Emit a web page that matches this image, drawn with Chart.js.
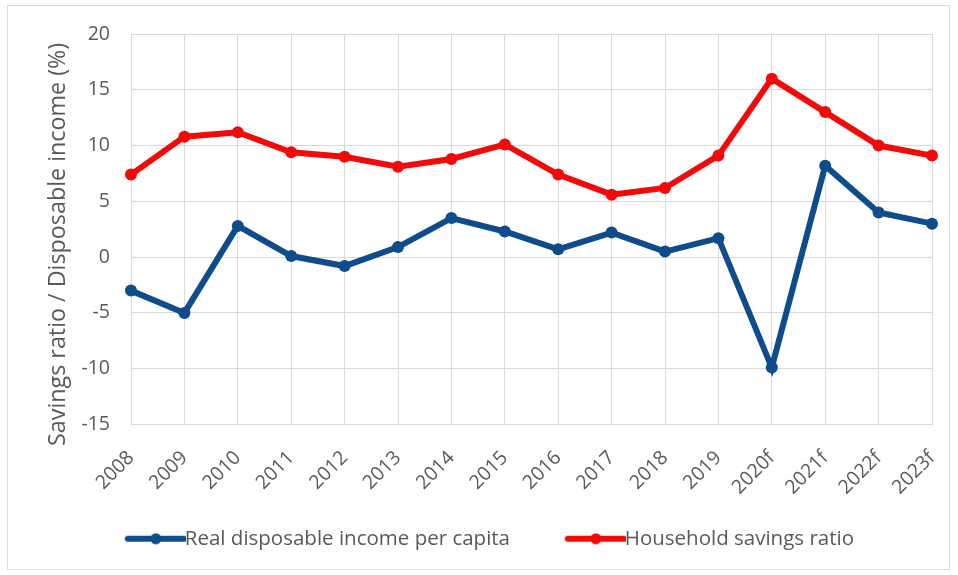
<!DOCTYPE html>
<html>
<head>
<meta charset="utf-8">
<script src="https://cdn.jsdelivr.net/npm/chart.js@4.4.1/dist/chart.umd.min.js"></script>
<style>
  html, body { margin: 0; padding: 0; background: #fff; }
  #wrap { position: relative; width: 958px; height: 575px; }
  #frame { position: absolute; left: 7px; top: 5px; width: 943px; height: 565px; border: 1px solid #d9d9d9; box-sizing: border-box; pointer-events: none; }
  canvas { position: absolute; left: 0; top: 0; }
</style>
</head>
<body>
<div id="wrap">
  <canvas id="chart" width="958" height="575"></canvas>
  <div id="frame"></div>
</div>
<script>
const years = ['2008', '2009', '2010', '2011', '2012', '2013', '2014', '2015',
               '2016', '2017', '2018', '2019', '2020f', '2021f', '2022f', '2023f'];
const realIncome = [-3.0, -5.0, 2.8, 0.1, -0.8, 0.9, 3.5, 2.3, 0.7, 2.2, 0.5, 1.7, -9.9, 8.2, 4.0, 3.0];
const savingsRatio = [7.4, 10.8, 11.2, 9.4, 9.0, 8.1, 8.8, 10.1, 7.4, 5.6, 6.2, 9.1, 16.0, 13.0, 10.0, 9.1];
const yTicks = [-15, -10, -5, 0, 5, 10, 15, 20];

const BLUE = '#0f4c8c';
const RED = '#f20a0a';
const TEXT = '#595959';
const GRID = '#d9d9d9';
const FONT = "'Open Sans', sans-serif";
const LEGEND_SIZE = 20.5;

// legend marker: a short thick line with a dot, drawn at the right end
// of a wider transparent strip so the blank part spaces the two items
const MARK_W = 117;
function legendMarker(color) {
    const c = document.createElement('canvas');
    c.width = MARK_W; c.height = 14;
    const g = c.getContext('2d');
    g.strokeStyle = color;
    g.lineWidth = 6;
    g.lineCap = 'round';
    g.beginPath();
    g.moveTo(MARK_W - 58, 7); g.lineTo(MARK_W - 2, 7);
    g.stroke();
    g.fillStyle = color;
    g.beginPath();
    g.arc(MARK_W - 30, 7, 5.5, 0, Math.PI * 2);
    g.fill();
    return c;
}

new Chart(document.getElementById('chart'), {
    type: 'line',
    data: {
        labels: years,
        datasets: [{
            label: 'Real disposable income per capita',
            data: realIncome,
            borderColor: BLUE,
            backgroundColor: BLUE,
            borderWidth: 6,
            pointRadius: 6,
            pointBorderWidth: 0,
            tension: 0
        }, {
            label: 'Household savings ratio',
            data: savingsRatio,
            borderColor: RED,
            backgroundColor: RED,
            borderWidth: 6,
            pointRadius: 6,
            pointBorderWidth: 0,
            tension: 0
        }]
    },
    options: {
        responsive: false,
        animation: false,
        layout: { padding: { left: 2, right: 26, top: 34, bottom: 16 } },
        scales: {
            x: {
                offset: false,
                grid: { color: GRID, lineWidth: 1, tickLength: 0 },
                border: { color: GRID },
                ticks: {
                    color: TEXT, font: { family: FONT, size: 19.5 },
                    maxRotation: 45, minRotation: 45, padding: 22, autoSkip: false
                },
                afterFit: s => {
                    s.height = 94;
                    // rotated labels lean left, keep the plot full width
                    s.paddingLeft = 0;
                    s.paddingRight = 0;
                }
            },
            y: {
                min: -15, max: 20,
                grid: { color: GRID, lineWidth: 1, tickLength: 0 },
                border: { color: GRID },
                afterBuildTicks: s => { s.ticks = yTicks.map(v => ({ value: v })); },
                ticks: { color: TEXT, font: { family: FONT, size: 19.5 }, padding: 21 },
                title: {
                    display: true,
                    // trailing spaces nudge the rotated title a little lower
                    text: 'Savings ratio / Disposable income (%)\u00a0\u00a0\u00a0\u00a0\u00a0',
                    color: TEXT,
                    font: { family: FONT, size: 23.3 },
                    padding: { top: 42, bottom: 0 }
                },
                afterFit: s => { s.width = 129; }
            }
        },
        plugins: {
            legend: {
                position: 'bottom',
                labels: {
                    color: TEXT,
                    font: { family: FONT, size: LEGEND_SIZE },
                    usePointStyle: true,
                    pointStyleWidth: MARK_W - 2 - LEGEND_SIZE,
                    padding: 10,
                    generateLabels: chart => chart.data.datasets.map((ds, i) => ({
                        text: ds.label,
                        pointStyle: legendMarker(ds.borderColor),
                        fontColor: TEXT,
                        datasetIndex: i,
                        hidden: false,
                        lineWidth: 0
                    }))
                }
            },
            tooltip: { enabled: false }
        }
    }
});
</script>
</body>
</html>
